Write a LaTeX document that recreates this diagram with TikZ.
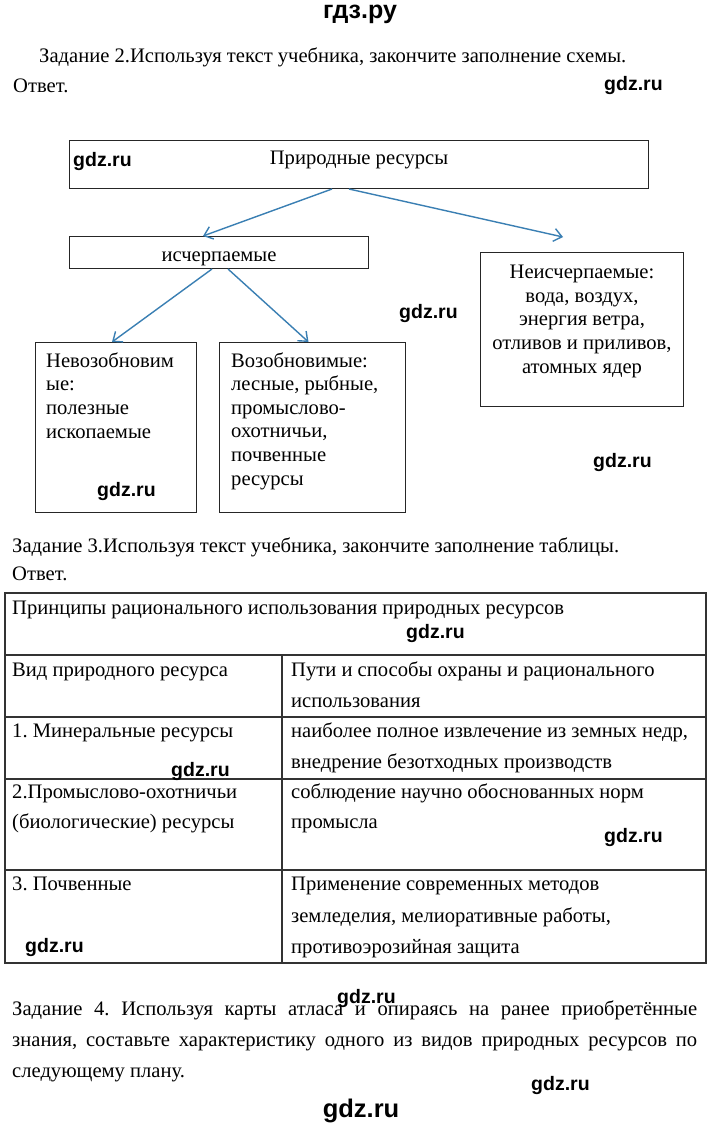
\documentclass[tikz,border=0pt]{standalone}
\usepackage{fontspec}
\setmainfont{Liberation Serif}
\newfontfamily\wmfont{Liberation Sans}
\usetikzlibrary{arrows.meta,calc}
\definecolor{arrblue}{HTML}{3A7FB3}
\tikzset{
  box/.style={draw=black!85, line width=1pt, inner sep=0pt, anchor=north west},
  txt/.style={inner sep=0pt, anchor=base west, font=\fontsize{20.6}{23.6}\selectfont},
  lines/.style={txt, align=left},
  wm/.style={inner sep=0pt, anchor=base west, font=\wmfont\bfseries\fontsize{19.5}{22}\selectfont},
  arr/.style={draw=arrblue, line width=1.4pt, -{Straight Barb[length=8pt,width=13pt]}},
  grid/.style={draw=black!80, line width=1.1pt}
}
\frenchspacing
\begin{document}
\begin{tikzpicture}[x=1pt,y=-1pt]
  %%%%% page %%%%%
  \fill[white] (0,0) rectangle (720,1128);
  \useasboundingbox (0,0) rectangle (720,1128);

  \node[wm, anchor=base, font=\wmfont\bfseries\fontsize{25}{28}\selectfont] (title) at (360,18) {гдз.ру};
  \node[txt] (task2) at (39,62) {Задание 2.Используя текст учебника, закончите заполнение схемы.};
  \node[txt] (ans2) at (13,92) {Ответ.};
  \node[wm] (wm1) at (604,90) {gdz.ru};

  %%%%% scheme %%%%%
  \node[box, minimum width=579, minimum height=48] (prirod) at (69,140) {};
  \node[txt, anchor=base] (prirodT) at (359,164) {Природные ресурсы};
  \node[wm] (wm2) at (73,166) {gdz.ru};

  \node[box, minimum width=299, minimum height=32] (isch) at (69,236) {};
  \node[txt, anchor=base] (ischT) at (219,261) {исчерпаемые};

  \node[box, minimum width=203, minimum height=154] (neisch) at (480,252) {};
  % last line on the base
  \node[lines, align=center, anchor=base] (neischT) at (582,373)
    {Неисчерпаемые:\\вода, воздух,\\энергия ветра,\\отливов и приливов,\\атомных ядер};
  \node[wm] (wm3) at (399,318) {gdz.ru};

  \node[box, minimum width=161, minimum height=170] (nevoz) at (35,342) {};
  \node[lines] (nevozT) at (46,438) {Невозобновим\\ые:\\полезные\\ископаемые};
  \node[wm] (wm4) at (97,496) {gdz.ru};

  \node[box, minimum width=186, minimum height=170] (voz) at (219,342) {};
  \node[lines] (vozT) at (231,485)
    {Возобновимые:\\лесные, рыбные,\\промыслово-\\охотничьи,\\почвенные\\ресурсы};
  \node[wm] (wm5) at (593,467) {gdz.ru};

  \coordinate (neischIn) at ($(neisch.north)+(-19,-15)$);
  \draw[arr] ($(prirod.south)+(-27,0)$) -- ($(isch.north)+(-16,0)$);
  \draw[arr] ($(prirod.south)+(-10,0)$) -- (neischIn);
  \draw[arr] ($(isch.south)+(-7,0)$) -- ($(nevoz.north)+(-4,0)$);
  \draw[arr] ($(isch.south)+(9,0)$) -- ($(voz.north)+(-4,0)$);

  %%%%% table %%%%%
  \node[txt] (task3) at (12,552) {Задание 3.Используя текст учебника, закончите заполнение таблицы.};
  \node[txt] (ans3) at (12,580) {Ответ.};

  \draw[grid] (5,593) rectangle (706,963);
  \foreach \yy in {655,717,779,870}
    \draw[grid] (5,\yy) -- (706,\yy);
  \draw[grid] (282,655) -- (282,963);

  \node[txt] (head) at (12,614) {Принципы рационального использования природных ресурсов};
  \node[wm] (wm6) at (406,638) {gdz.ru};

  \node[txt] (c1a) at (12,676) {Вид природного ресурса};
  \node[txt] (c2a) at (291,676) {Пути и способы охраны и рационального};
  \node[txt] (c2b) at (291,707) {использования};

  \node[txt] (r1a) at (12,737) {1. Минеральные ресурсы};
  \node[txt] (r1b) at (291,737) {наиболее полное извлечение из земных недр,};
  \node[txt] (r1c) at (291,768) {внедрение безотходных производств};
  \node[wm] (wm7) at (171,776) {gdz.ru};

  \node[txt] (r2a) at (12,798) {2.Промыслово-охотничьи};
  \node[txt] (r2b) at (12,828) {(биологические) ресурсы};
  \node[txt] (r2c) at (291,798) {соблюдение научно обоснованных норм};
  \node[txt] (r2d) at (291,828) {промысла};
  \node[wm] (wm8) at (604,842) {gdz.ru};

  \node[txt] (r3a) at (12,890) {3. Почвенные};
  \node[txt] (r3b) at (291,890) {Применение современных методов};
  \node[txt] (r3c) at (291,922) {земледелия, мелиоративные работы,};
  \node[txt] (r3d) at (291,953) {противоэрозийная защита};
  \node[wm] (wm9) at (25,952) {gdz.ru};

  %%%%% task 4 %%%%%
  % first line on the base here
  \node[txt, text width=685, align=justify,
        font=\fontsize{20.6}{31}\selectfont] (task4) at (12,1015)
    {Задание 4. Используя карты атласа и опираясь на ранее приобретённые\linebreak знания, составьте характеристику одного из видов природных ресурсов по\linebreak следующему плану.};
  \node[wm] (wm10) at (337,1003) {gdz.ru};
  \node[wm] (wm11) at (531,1090) {gdz.ru};
  \node[wm, anchor=base, font=\wmfont\bfseries\fontsize{25.5}{28}\selectfont] (wm12) at (361,1117) {gdz.ru};
\end{tikzpicture}
\end{document}
